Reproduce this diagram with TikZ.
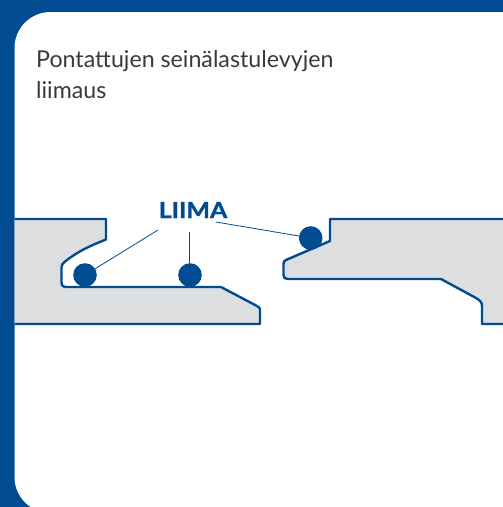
\documentclass[tikz,border=0pt]{standalone}
\usepackage{fontspec}
\setmainfont{Lato}
\newfontfamily\gluefont[BoldFeatures={FakeStretch=1.13,FakeBold=1.2}]{Lato}
\definecolor{brandblue}{HTML}{004B91}
\definecolor{boardgrey}{HTML}{DDDEE0}
\definecolor{titlegrey}{HTML}{3A3A3C}
\tikzset{
  board/.style={draw=brandblue,fill=boardgrey,line width=2.4pt,line join=round},
  gluedot/.style={circle,fill=brandblue,inner sep=0pt,minimum size=23.6pt},
  leader/.style={draw=brandblue,line width=0.8pt},
  titletext/.style={anchor=base west,inner sep=0pt,text=titlegrey,font=\fontsize{23.2}{28}\selectfont},
  gluetext/.style={anchor=base,inner sep=0pt,text=brandblue,font=\fontsize{22}{26}\gluefont\bfseries}
}
\begin{document}
\begin{tikzpicture}[x=1pt,y=-1pt]
\useasboundingbox (0,0) rectangle (503,507);
\clip (0,0) rectangle (503,507);
\fill[brandblue] (0,0) rectangle (503,507);
\fill[white,rounded corners=36pt] (14.5,12) rectangle (540,513);
\node[titletext] (title1) at (36,67) {Pontattujen seinälastulevyjen};
\node[titletext] (title2) at (36,98) {liimaus};
% left board
\path[board] (14.5,219) -- (106,219) -- (106,239.5)
  .. controls (92,245) and (78,251) .. (64.5,262)
  .. controls (62.5,263.5) and (61.5,265) .. (61.5,267.5)
  -- (61.5,282) .. controls (61.5,285.5) and (63,287) .. (66.5,287)
  -- (221,287) -- (257,306) .. controls (259.5,307.5) and (260,308) .. (260,310)
  -- (260,324) -- (14.5,324);
% right board
\path[board] (510,219) -- (330,219) -- (330,241) -- (286,260)
  .. controls (284,261) and (283.5,262) .. (283.5,264)
  -- (283.5,275) .. controls (283.5,278) and (285,279) .. (288,279)
  -- (441,279) -- (476,298) .. controls (480,300.5) and (482,302) .. (482,306)
  -- (482,324) -- (510,324);
\node[gluedot] (dotA) at (85,275) {};
\node[gluedot] (dotB) at (190,275) {};
\node[gluedot] (dotC) at (310.7,238) {};
\node[gluetext] (glue) at (193,218) {LIIMA};
\coordinate (endA) at (158,230);
\coordinate (endB) at (189,231.5);
\coordinate (endC) at (216,222);
\draw[leader] (endA) -- (dotA);
\draw[leader] (endB) -- (endB |- dotB.north);
\draw[leader] (endC) -- (dotC);
\end{tikzpicture}
\end{document}
